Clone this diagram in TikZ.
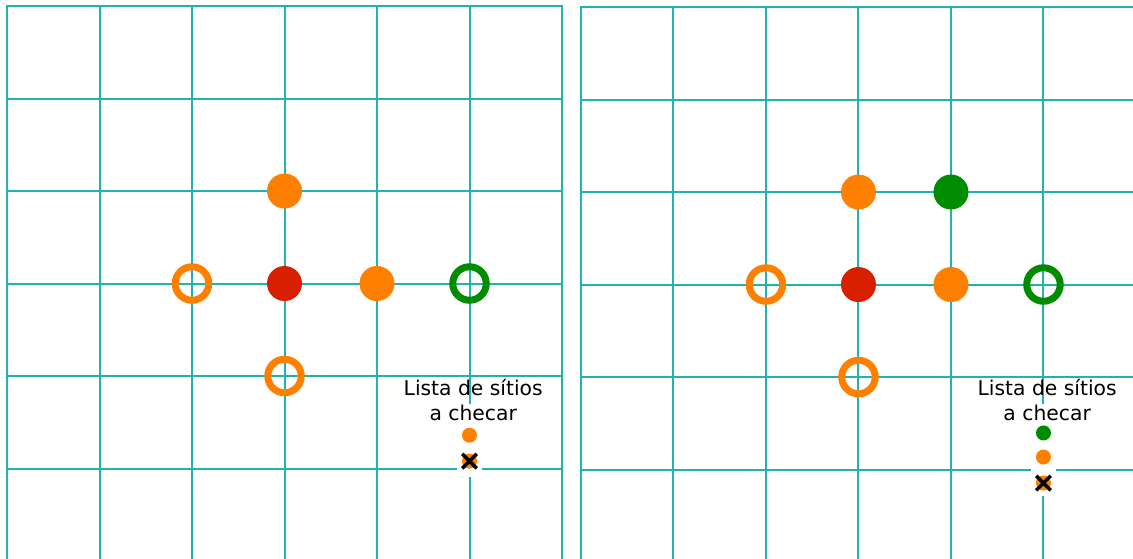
\documentclass[tikz,border=0pt]{standalone}
\usepackage{fontspec}
\setmainfont{DejaVu Sans}
\usetikzlibrary{shapes.misc}
\definecolor{gridteal}{RGB}{32,178,178}
\definecolor{siteorange}{RGB}{255,127,0}
\definecolor{sitered}{RGB}{216,32,0}
\definecolor{sitegreen}{RGB}{0,140,0}
\tikzset{
  gridline/.style={gridteal,line width=2pt,line cap=rect},
  site/.style={circle,inner sep=0pt,minimum size=35pt,fill=#1},
  ring/.style={circle,inner sep=0pt,minimum size=33.5pt,draw=#1,line width=7pt},
  mini/.style={circle,inner sep=0pt,minimum size=15pt,fill=#1},
  xmark/.style={cross out,draw=black,line width=3.5pt,inner sep=0pt,minimum size=11pt},
  legend/.style={align=center,inner sep=0pt,font=\fontsize{20.3}{25}\selectfont},
}
\begin{document}
\begin{tikzpicture}[x=92.5pt,y=-92.5pt]
  \useasboundingbox (-0.0757,-0.0649) rectangle (12.173,5.968);
  % left panel
  \foreach \i in {0,...,6}
    \draw[gridline] (\i,0) -- (\i,6);
  \foreach \j in {0,...,5}
    \draw[gridline] (0,\j) -- (6,\j);
  \node[site=sitered] (lc) at (3,3) {};
  \node[site=siteorange] (ln) at (3,2) {};
  \node[site=siteorange] (le) at (4,3) {};
  \node[ring=siteorange] (lw) at (2,3) {};
  \node[ring=siteorange] (ls) at (3,4) {};
  \node[ring=sitegreen] (lee) at (5,3) {};
  % left list
  \fill[white] (4.86,4.30) rectangle (5.14,5.09);
  \node[legend] (ltxt) at (5.04,4.26) {Lista de sítios\\a checar};
  \node[mini=siteorange] (lq1) at (5,4.64) {};
  \node[mini=siteorange] (lq0) at (5,4.92) {};
  \node[xmark] (lx) at (lq0) {};
  % right panel
  \begin{scope}[shift={(6.205,0.011)}]
    \foreach \i in {0,...,6}
      \draw[gridline] (\i,0) -- (\i,6);
    \foreach \j in {0,...,5}
      \draw[gridline] (0,\j) -- (6,\j);
    \node[site=sitered] (rc) at (3,3) {};
    \node[site=siteorange] (rn) at (3,2) {};
    \node[site=siteorange] (re) at (4,3) {};
    \node[site=sitegreen] (rne) at (4,2) {};
    \node[ring=siteorange] (rw) at (2,3) {};
    \node[ring=siteorange] (rs) at (3,4) {};
    \node[ring=sitegreen] (ree) at (5,3) {};
    % right list
    \fill[white] (4.86,4.29) rectangle (5.14,5.29);
    \node[legend] (rtxt) at (5.04,4.25) {Lista de sítios\\a checar};
    \node[mini=sitegreen] (rq2) at (5,4.605) {};
    \node[mini=siteorange] (rq1) at (5,4.865) {};
    \node[mini=siteorange] (rq0) at (5,5.146) {};
    \node[xmark] (rx) at (rq0) {};
  \end{scope}
\end{tikzpicture}
\end{document}
